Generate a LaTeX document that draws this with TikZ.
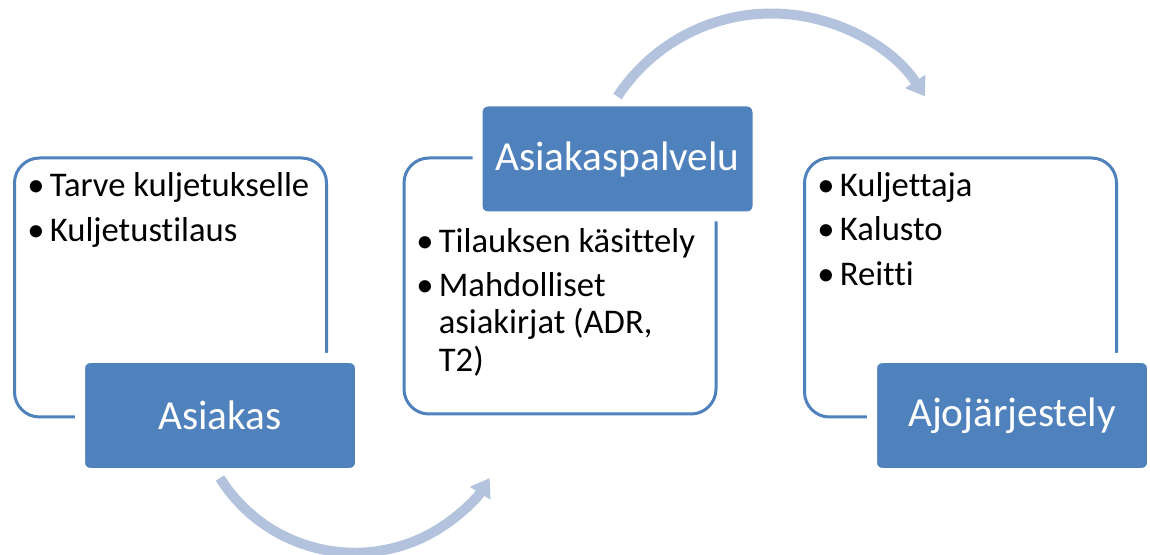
\documentclass[tikz,border=0pt]{standalone}
\usepackage{fontspec}
\setmainfont{Carlito}[Ligatures=CommonOff]
\usetikzlibrary{arrows.meta}
\definecolor{accentblue}{RGB}{79,129,189}
\definecolor{flowblue}{RGB}{179,195,222}
\newcommand{\bul}{\makebox[0.45cm][l]{\textbullet}}

\begin{document}
\begin{tikzpicture}[line join=round,
    panel/.style={draw=accentblue,line width=0.06cm,rounded corners=0.5cm,
      minimum width=6.24cm,minimum height=5.18cm},
    lead/.style={fill=accentblue,draw=white,line width=0.2cm,rounded corners=0.2cm,
      minimum width=5.6cm,minimum height=2.3cm,text=white,
      font=\fontsize{23.5pt}{28pt}\selectfont},
    item/.style={anchor=base west,inner sep=0pt,
      font=\fontsize{19.7pt}{21.3pt}\selectfont},
    flow/.style={draw=flowblue,line width=0.2cm,line cap=butt,
      -{Triangle[width=0.46cm,length=0.36cm]}}]
  \useasboundingbox (0,0) rectangle (23,11.08);
  % outlined panels
  \node[panel] (asiakasbg) at (3.41,5.33) {};
  \node[panel,minimum height=5.12cm] (palvelubg) at (11.20,5.36) {};
  \node[panel] (ajobg) at (19.21,5.33) {};
  % bullet lists
  \node[item] (tarve) at ([shift={(0.28,-0.80)}]asiakasbg.north west) {\bul Tarve kuljetukselle};
  \node[item] (tilaus) at ([shift={(0.28,-1.70)}]asiakasbg.north west) {\bul Kuljetustilaus};
  \node[item] (kasittely) at ([shift={(0.27,-1.92)}]palvelubg.north west) {\bul Tilauksen käsittely};
  \node[item] (asiakirjat) at ([shift={(0.27,-2.80)}]palvelubg.north west)
    {\bul\vtop{\hbox{Mahdolliset}\hbox{asiakirjat (ADR,}\hbox{T2)}}};
  \node[item] (kuljettaja) at ([shift={(0.28,-0.80)}]ajobg.north west) {\bul Kuljettaja};
  \node[item] (kalusto) at ([shift={(0.28,-1.68)}]ajobg.north west) {\bul Kalusto};
  \node[item] (reitti) at ([shift={(0.28,-2.58)}]ajobg.north west) {\bul Reitti};
  % filled headers
  \node[lead] (asiakas) at (4.4,2.77) {Asiakas};
  \node[lead] (asiakaspalvelu) at (12.35,7.9) {Asiakaspalvelu};
  \node[lead] (ajojarjestely) at (20.24,2.77) {Ajojärjestely};
  % curved flow arrows
  \draw[flow] (asiakas.south) arc[start angle=-148,end angle=-32,radius=3.18];
  \draw[flow] (asiakaspalvelu.north) arc[start angle=146.7,end angle=33.3,radius=3.68];
\end{tikzpicture}
\end{document}
